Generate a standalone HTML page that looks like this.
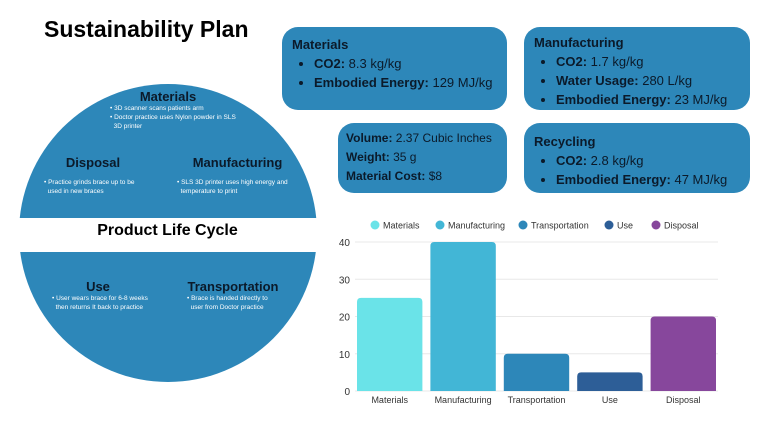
<!DOCTYPE html>
<html><head><meta charset="utf-8"><style>
body{margin:0;width:768px;height:432px;background:#fff;font-family:"Liberation Sans",sans-serif;position:relative;overflow:hidden}
.box{position:absolute;background:#2d87b9;border-radius:16px;color:#0b1a2a;font-size:13px;box-sizing:border-box;padding:8px 10px;line-height:19px;white-space:nowrap}
.box b{font-weight:bold}
.box ul{margin:0;padding-left:22px}
.h{font-weight:bold;font-size:13px}
.ct{position:absolute;font-weight:bold;color:#0b1a2a;font-size:13px;text-align:center}
.cs{position:absolute;color:#fff;font-size:6.5px;line-height:9px}
</style></head><body>
<div style="position:absolute;left:44px;top:16px;font-size:23px;font-weight:bold;color:#000">Sustainability Plan</div>

<svg style="position:absolute;left:0;top:0" width="340" height="432">
<defs><clipPath id="c"><circle cx="168" cy="233" r="149"/></clipPath></defs>
<g clip-path="url(#c)"><rect x="0" y="80" width="340" height="138" fill="#2d87b9"/><rect x="0" y="252" width="340" height="140" fill="#2d87b9"/></g>
</svg>
<div class="ct" style="left:118px;top:89px;width:100px">Materials</div>
<div class="cs" style="left:110px;top:104px;width:150px">• 3D scanner scans patients arm<br>• Doctor practice uses Nylon powder in SLS<br>&nbsp;&nbsp;3D printer</div>
<div class="ct" style="left:48px;top:155px;width:90px">Disposal</div>
<div class="cs" style="left:44px;top:178px;width:110px">• Practice grinds brace up to be<br>&nbsp;&nbsp;used in new braces</div>
<div class="ct" style="left:185px;top:155px;width:105px">Manufacturing</div>
<div class="cs" style="left:177px;top:178px;width:130px">• SLS 3D printer uses high energy and<br>&nbsp;&nbsp;temperature to print</div>
<div style="position:absolute;left:60px;top:222px;width:215px;text-align:center;font-weight:bold;font-size:16px;color:#000">Product Life Cycle</div>
<div class="ct" style="left:68px;top:279px;width:60px">Use</div>
<div class="cs" style="left:52px;top:294px;width:120px">• User wears brace for 6-8 weeks<br>&nbsp;&nbsp;then returns It back to practice</div>
<div class="ct" style="left:183px;top:279px;width:100px">Transportation</div>
<div class="cs" style="left:187px;top:294px;width:110px">• Brace is handed directly to<br>&nbsp;&nbsp;user from Doctor practice</div>

<div class="box" style="left:282px;top:27px;width:225px;height:83px"><div class="h">Materials</div><ul><li><b>CO2:</b> 8.3 kg/kg</li><li><b>Embodied Energy:</b> 129 MJ/kg</li></ul></div>
<div class="box" style="left:524px;top:27px;width:226px;height:83px;padding-top:6px"><div class="h">Manufacturing</div><ul><li><b>CO2:</b> 1.7 kg/kg</li><li><b>Water Usage:</b> 280 L/kg</li><li><b>Embodied Energy:</b> 23 MJ/kg</li></ul></div>
<div class="box" style="left:338px;top:123px;width:169px;height:70px;font-size:12px;padding:6px 8px"><div><b>Volume:</b> 2.37 Cubic Inches</div><div><b>Weight:</b> 35 g</div><div><b>Material Cost:</b> $8</div></div>
<div class="box" style="left:524px;top:123px;width:226px;height:70px;padding-top:9px"><div class="h">Recycling</div><ul><li><b>CO2:</b> 2.8 kg/kg</li><li><b>Embodied Energy:</b> 47 MJ/kg</li></ul></div>

<svg id="chart" style="position:absolute;left:0;top:0" width="768" height="432" font-family="Liberation Sans, sans-serif"></svg>
<script>
const categories=["Materials","Manufacturing","Transportation","Use","Disposal"];
const values=[25,40,10,5,20];
const colors=["#6ae3e8","#42b6d6","#2d87b9","#2d5e97","#87479c"];
const ticks=[0,10,20,30,40];
const svg=document.getElementById('chart');
const NS="http://www.w3.org/2000/svg";
const x0=353,x1=720,y0=391,yTop=242,ymax=40;
const band=(x1-x0)/categories.length;
const ys=v=>y0-(v/ymax)*(y0-yTop);
function mk(t,a,txt){const e=document.createElementNS(NS,t);for(const k in a)e.setAttribute(k,a[k]);if(txt!==undefined)e.textContent=txt;svg.appendChild(e);return e;}
ticks.forEach(t=>{
 const g=mk('line',{x1:355,x2:718,y1:ys(t),y2:ys(t),stroke:'#e8e8e8'});
 
 
 const l=mk('text',{x:350,y:ys(t)+4,'text-anchor':'end','font-size':10,fill:'#333'},t);
 
 
});
categories.forEach((c,i)=>{
 const bx=x0+i*band+4,bw=band-8,top=ys(values[i]);
 const r=mk('path',{d:`M${bx},${y0}V${top+4}Q${bx},${top} ${bx+4},${top}H${bx+bw-4}Q${bx+bw},${top} ${bx+bw},${top+4}V${y0}Z`,fill:colors[i]});
 
 
 const t=mk('text',{x:bx+bw/2,y:403,'text-anchor':'middle','font-size':9,fill:'#333'},c);
 
 
});
const lx=[375,440,523,609,656];
categories.forEach((c,i)=>{
 const d=mk('circle',{cx:lx[i],cy:225,r:4.5,fill:colors[i]});
 
 
 const t=mk('text',{x:lx[i]+8,y:228.5,'font-size':9,fill:'#333'},c);
 
 
});
</script>
</body></html>
